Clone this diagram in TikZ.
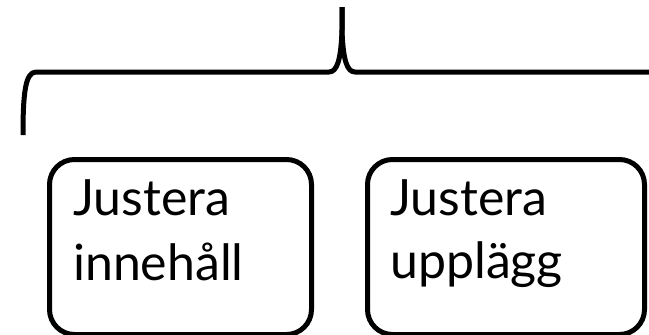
\documentclass[tikz,border=0pt]{standalone}
\usepackage{fontspec}
\setmainfont{Lato}
\begin{document}
\begin{tikzpicture}[x=1pt,y=-1pt,
  brace/.style={line width=5pt, line cap=butt, line join=round},
  boxstyle/.style={draw, line width=5pt, rounded corners=25pt, inner sep=0pt, anchor=north west},
  label/.style={anchor=base west, inner sep=0pt, font=\fontsize{50}{60}\selectfont}]
\useasboundingbox (0,0) rectangle (649,335);
% brace
\coordinate (bl) at (23,135);
\coordinate (tip) at (342,7);
\coordinate (br) at (652,72);
\draw[brace] (bl) .. controls (23,95) and (25,72) .. (36,72) -- (329,72)
  .. controls (337,72) and (341,60) .. (342,30) -- (tip);
\draw[brace] (tip) -- (342,30) .. controls (343,60) and (347,72) .. (355,72) -- (br);
% boxes
\node[boxstyle, minimum width=262pt, minimum height=175pt] (b1) at (47,157) {};
\node[boxstyle, minimum width=277pt, minimum height=175pt] (b2) at (365,157) {};
% labels
\node[label] (t1a) at (73,215) {Justera};
\node[label] (t1b) at (73,280) {innehåll};
\node[label] (t2a) at (390,215) {Justera};
\node[label] (t2b) at (390,278) {upplägg};
\end{tikzpicture}
\end{document}
